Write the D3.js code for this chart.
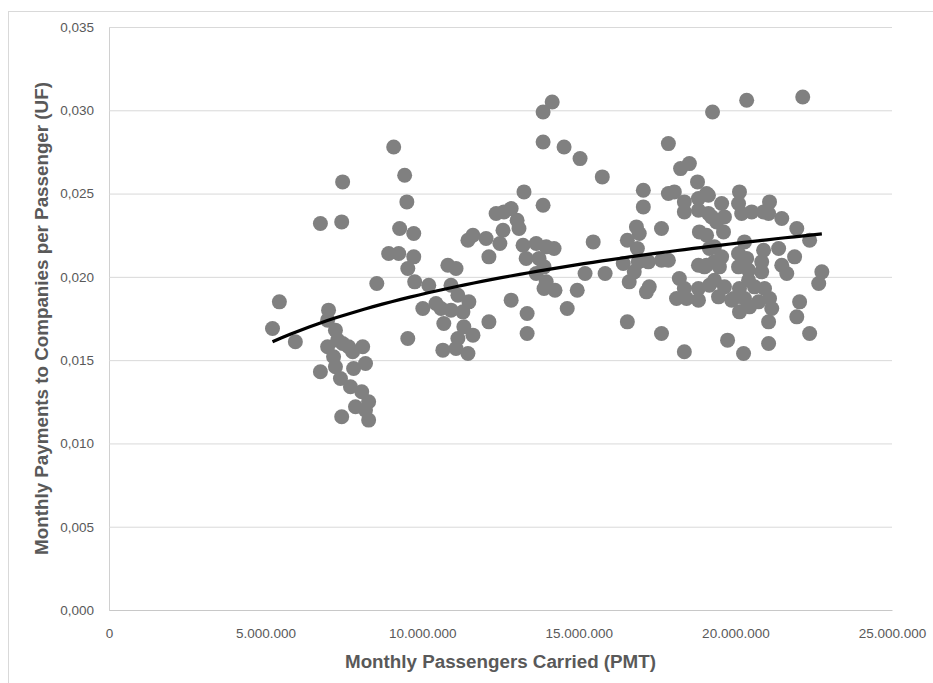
<!DOCTYPE html>
<html>
<head>
<meta charset="utf-8">
<title>Payments per passenger</title>
<script src="https://cdnjs.cloudflare.com/ajax/libs/d3/7.8.5/d3.min.js"></script>
<style>
  body { margin: 0; background: #fff; }
  svg text { font-family: "Liberation Sans", Arial, sans-serif; fill: #595959; }
  .tick text { font-size: 13.5px; }
  .title { font-size: 18.8px; font-weight: bold; }
</style>
</head>
<body>
<svg id="chart" width="933" height="683"></svg>
<script>
// monthly passengers carried (PMT), millions
var passengers = [
  5.22, 5.44, 5.95, 6.75, 7.43, 7.46, 6.75, 7.01, 6.98, 7.23, 7.30, 6.98, 7.46, 7.65, 8.10, 7.17, 7.78, 8.19, 7.81, 7.23,
  7.39, 7.71, 8.07, 8.29, 7.87, 8.19, 7.43, 8.29, 8.55, 9.09, 9.44, 9.51, 9.28, 9.73, 8.93, 9.25, 9.73, 9.54, 9.76, 9.54,
  10.21, 10.82, 11.08, 10.92, 11.14, 11.49, 10.02, 10.44, 10.60, 10.92, 11.30, 10.69, 11.33, 11.62, 11.14, 11.08, 10.66, 11.46, 12.13, 12.84,
  13.35, 13.35, 14.63, 11.62, 11.46, 12.04, 12.13, 12.36, 12.61, 12.84, 13.03, 13.09, 12.58, 12.48, 13.25, 13.86, 13.22, 13.64, 13.96, 14.21,
  13.32, 13.73, 13.89, 13.64, 13.96, 13.89, 14.24, 14.15, 13.86, 13.86, 14.53, 15.04, 15.75, 17.86, 18.25, 18.53, 18.79, 17.06, 17.86, 18.05,
  18.37, 18.37, 18.82, 18.82, 17.06, 16.84, 16.93, 17.64, 16.55, 16.87, 15.46, 16.42, 16.90, 17.22, 17.64, 17.86, 16.77, 16.61, 17.25, 17.16,
  15.20, 15.84, 14.95, 18.21, 18.12, 18.44, 18.37, 18.82, 18.82, 16.55, 17.64, 18.37, 18.85, 18.82, 19.27, 20.36, 22.15, 19.08, 20.13, 19.56,
  20.10, 19.14, 19.24, 19.65, 20.20, 20.52, 20.90, 21.09, 21.06, 21.48, 21.96, 22.37, 19.08, 19.62, 19.40, 20.29, 19.17, 19.56, 19.08, 19.49,
  20.10, 20.36, 20.10, 20.42, 20.90, 20.84, 20.84, 19.17, 19.46, 19.65, 19.88, 20.13, 20.29, 20.13, 20.45, 20.74, 20.93, 21.06, 21.06, 19.75,
  20.26, 21.38, 21.89, 21.48, 21.64, 22.76, 22.66, 21.09, 21.16, 22.05, 21.96, 22.37, 19.14, 19.33, 20.61, 19.33, 19.01, 19.33, 20.42, 19.94
];
// monthly payments to companies per passenger (UF)
var payments = [
  0.0169, 0.0185, 0.0161, 0.0232, 0.0233, 0.0257, 0.0143, 0.0180, 0.0174, 0.0168, 0.0162, 0.0158, 0.0160, 0.0158, 0.0158, 0.0152, 0.0155, 0.0148, 0.0145, 0.0146,
  0.0139, 0.0134, 0.0131, 0.0125, 0.0122, 0.0120, 0.0116, 0.0114, 0.0196, 0.0278, 0.0261, 0.0245, 0.0229, 0.0226, 0.0214, 0.0214, 0.0212, 0.0205, 0.0197, 0.0163,
  0.0195, 0.0207, 0.0205, 0.0195, 0.0189, 0.0185, 0.0181, 0.0184, 0.0181, 0.0180, 0.0179, 0.0172, 0.0170, 0.0165, 0.0163, 0.0157, 0.0156, 0.0154, 0.0173, 0.0186,
  0.0178, 0.0166, 0.0181, 0.0225, 0.0222, 0.0223, 0.0212, 0.0238, 0.0239, 0.0241, 0.0234, 0.0229, 0.0228, 0.0220, 0.0251, 0.0243, 0.0219, 0.0220, 0.0218, 0.0217,
  0.0211, 0.0211, 0.0206, 0.0202, 0.0197, 0.0193, 0.0192, 0.0305, 0.0299, 0.0281, 0.0278, 0.0271, 0.0260, 0.0280, 0.0265, 0.0268, 0.0257, 0.0252, 0.0250, 0.0251,
  0.0245, 0.0239, 0.0247, 0.0240, 0.0242, 0.0230, 0.0226, 0.0229, 0.0222, 0.0217, 0.0221, 0.0208, 0.0209, 0.0209, 0.0210, 0.0210, 0.0203, 0.0197, 0.0194, 0.0191,
  0.0202, 0.0202, 0.0192, 0.0199, 0.0187, 0.0187, 0.0193, 0.0193, 0.0186, 0.0173, 0.0166, 0.0155, 0.0227, 0.0207, 0.0299, 0.0306, 0.0308, 0.0250, 0.0251, 0.0244,
  0.0244, 0.0238, 0.0236, 0.0236, 0.0238, 0.0239, 0.0239, 0.0245, 0.0238, 0.0235, 0.0229, 0.0222, 0.0225, 0.0227, 0.0233, 0.0221, 0.0217, 0.0212, 0.0207, 0.0206,
  0.0214, 0.0211, 0.0206, 0.0204, 0.0216, 0.0209, 0.0203, 0.0195, 0.0188, 0.0194, 0.0186, 0.0193, 0.0187, 0.0179, 0.0182, 0.0185, 0.0193, 0.0173, 0.0160, 0.0162,
  0.0154, 0.0217, 0.0212, 0.0207, 0.0202, 0.0203, 0.0196, 0.0187, 0.0181, 0.0185, 0.0176, 0.0166, 0.0249, 0.0198, 0.0194, 0.0209, 0.0206, 0.0218, 0.0198, 0.0187
];
var xTicks = [0, 5000000, 10000000, 15000000, 20000000, 25000000];
var yTicks = [0, 0.005, 0.010, 0.015, 0.020, 0.025, 0.030, 0.035];
// logarithmic trendline: y = trendA + trendB * ln(x)
var trendA = -0.05196;
var trendB = 0.0044;

var data = passengers.map(function(p, i) { return { x: p * 1e6, y: payments[i] }; });

var margin = { top: 27, left: 109 };
var width = 783, height = 583;

var svg = d3.select("#chart");

// chart area border (right and bottom edges fall outside the frame)
svg.append("rect")
  .attr("x", 8.5).attr("y", 11.5)
  .attr("width", 940).attr("height", 680)
  .attr("fill", "none").attr("stroke", "#d9d9d9");

var g = svg.append("g").attr("transform", "translate(" + margin.left + "," + margin.top + ")");

var x = d3.scaleLinear().domain([0, 25000000]).range([0, width]);
var y = d3.scaleLinear().domain([0, 0.035]).range([height, 0]);

var fmtX = function(d) { return d3.format(",")(d).replace(/,/g, "."); };
var fmtY = function(d) { return d3.format(".3f")(d).replace(".", ","); };

// gridlines + y labels
var yAxis = g.append("g")
  .call(d3.axisLeft(y).tickValues(yTicks).tickSize(-width).tickPadding(15).tickFormat(fmtY));
yAxis.select(".domain").attr("stroke", "#d0d0d0");
yAxis.selectAll(".tick line").attr("stroke", "#d9d9d9");

var xAxis = g.append("g").attr("transform", "translate(0," + height + ")")
  .call(d3.axisBottom(x).tickValues(xTicks).tickSize(0).tickPadding(18).tickFormat(fmtX));
xAxis.select(".domain").attr("stroke", "#c8c8c8");

// points
g.append("g").selectAll("circle")
  .data(data)
  .join("circle")
  .attr("cx", function(d) { return x(d.x); })
  .attr("cy", function(d) { return y(d.y); })
  .attr("r", 7.5)
  .attr("fill", "#808080");

// trendline over the range of the data
var ext = d3.extent(data, function(d) { return d.x; });
var trend = d3.range(0, 61).map(function(i) {
  var xv = ext[0] + (ext[1] - ext[0]) * i / 60;
  return { x: xv, y: trendA + trendB * Math.log(xv) };
});
g.append("path")
  .datum(trend)
  .attr("d", d3.line().x(function(d) { return x(d.x); }).y(function(d) { return y(d.y); }))
  .attr("fill", "none")
  .attr("stroke", "#000")
  .attr("stroke-width", 3.2);

// axis titles
svg.append("text").attr("class", "title")
  .attr("x", margin.left + width / 2).attr("y", 668)
  .attr("text-anchor", "middle")
  .text("Monthly Passengers Carried (PMT)");

svg.append("text").attr("class", "title")
  .attr("transform", "translate(48," + (margin.top + height / 2) + ") rotate(-90)")
  .attr("text-anchor", "middle")
  .text("Monthly Payments to Companies per Passenger (UF)");
</script>
</body>
</html>
